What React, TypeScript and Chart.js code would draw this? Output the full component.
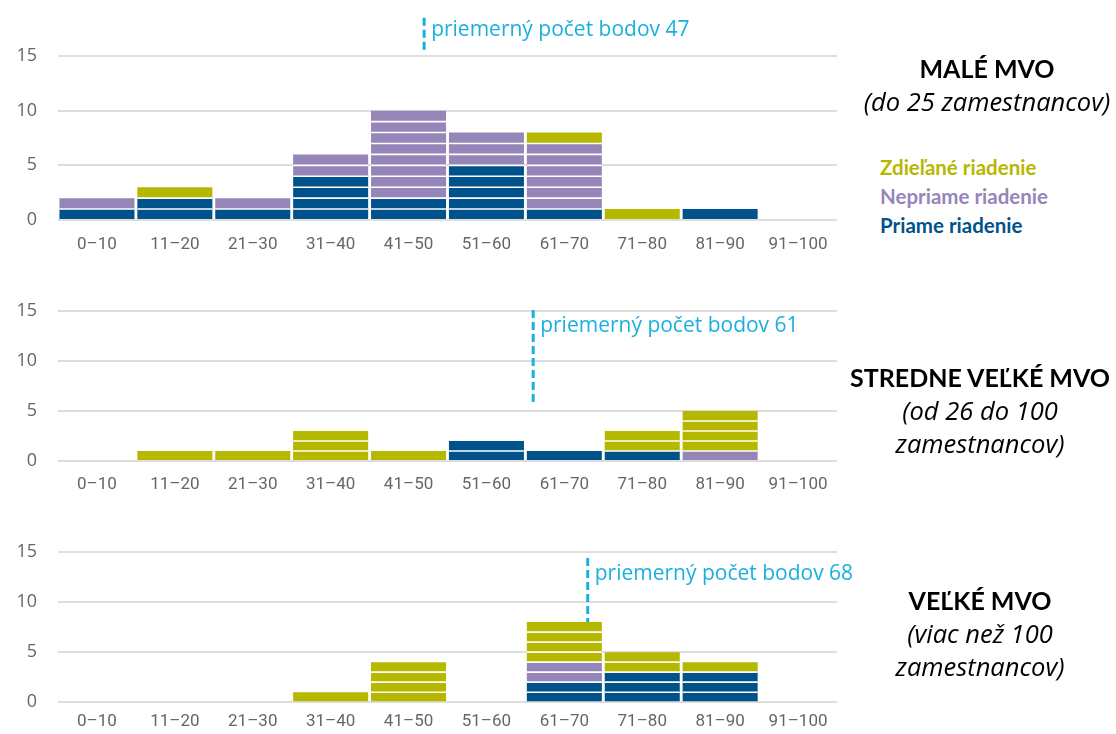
import React, { useEffect, useRef } from "react";
import { Chart, registerables } from "chart.js";

Chart.register(...registerables);

// ---------- data ----------
const categories = ["0–10", "11–20", "21–30", "31–40", "41–50", "51–60", "61–70", "71–80", "81–90", "91–100"];
const yTickValues = [0, 5, 10, 15];
const seriesNames = ["Priame riadenie", "Nepriame riadenie", "Zdieľané riadenie"];

const smallPriame = [1, 2, 1, 4, 2, 5, 1, 0, 1, 0];
const smallNepriame = [1, 0, 1, 2, 8, 3, 6, 0, 0, 0];
const smallZdielane = [0, 1, 0, 0, 0, 0, 1, 1, 0, 0];

const mediumPriame = [0, 0, 0, 0, 0, 2, 1, 1, 0, 0];
const mediumNepriame = [0, 0, 0, 0, 0, 0, 0, 0, 1, 0];
const mediumZdielane = [0, 1, 1, 3, 1, 0, 0, 2, 4, 0];

const largePriame = [0, 0, 0, 0, 0, 0, 2, 3, 3, 0];
const largeNepriame = [0, 0, 0, 0, 0, 0, 2, 0, 0, 0];
const largeZdielane = [0, 0, 0, 1, 4, 0, 4, 2, 1, 0];

const meanScores = [47, 61, 68];
const meanLabelPrefix = "priemerný počet bodov";

const panelTitles = ["MALÉ MVO", "STREDNE VEĽKÉ MVO", "VEĽKÉ MVO"];
const panelSubtitles = [["(do 25 zamestnancov)"], ["(od 26 do 100", "zamestnancov)"], ["(viac než 100", "zamestnancov)"]];

// ---------- styles ----------
const COLORS = ["#00538a", "#9685b8", "#b6b800"];
const MEAN_COLOR = "#1ab0de";
const GRID_COLOR = "#dedede";
const TICK_COLOR = "#666666";

type PanelLayout = {
  top: number;
  height: number;
  padTop: number;
  xAxisHeight: number;
  xTickPad: number;
  lineTop: number; // axis units
  lineBottom: number; // axis units
  labelY: number; // axis units
};

const layouts: PanelLayout[] = [
  { top: 0, height: 260, padTop: 56, xAxisHeight: 40, xTickPad: 15, lineTop: 18.5, lineBottom: 15.3, labelY: 17.4 },
  { top: 255, height: 245, padTop: 56, xAxisHeight: 39, xTickPad: 14, lineTop: 15.1, lineBottom: 5.8, labelY: 13.5 },
  { top: 500, height: 234, padTop: 52, xAxisHeight: 29, xTickPad: 9, lineTop: 14.4, lineBottom: 8, labelY: 12.8 },
];

const unitLinesPlugin = {
  id: "unitLines",
  afterDatasetsDraw(chart: any) {
    const ctx = chart.ctx;
    const y = chart.scales.y;
    const metas = chart.getSortedVisibleDatasetMetas();
    const n = chart.data.labels.length;
    ctx.save();
    ctx.strokeStyle = "#ffffff";
    ctx.lineWidth = 1.6;
    for (let i = 0; i < n; i++) {
      let total = 0;
      chart.data.datasets.forEach((ds: any) => (total += ds.data[i] || 0));
      if (total <= 1) continue;
      const el = metas[0].data[i];
      const half = el.width / 2;
      for (let k = 1; k < total; k++) {
        const py = y.getPixelForValue(k);
        ctx.beginPath();
        ctx.moveTo(el.x - half, py);
        ctx.lineTo(el.x + half, py);
        ctx.stroke();
      }
    }
    ctx.restore();
  },
};

const meanLinePlugin = {
  id: "meanLine",
  afterDraw(chart: any, _args: any, opts: any) {
    const ctx = chart.ctx;
    const xs = chart.scales.x;
    const ys = chart.scales.y;
    const px = xs.getPixelForValue(opts.value / 10 - 0.5);
    const yTop = ys.getPixelForValue(opts.lineTop);
    const yBot = ys.getPixelForValue(opts.lineBottom);
    ctx.save();
    ctx.strokeStyle = MEAN_COLOR;
    ctx.lineWidth = 3;
    ctx.setLineDash([8, 4]);
    ctx.beginPath();
    ctx.moveTo(px, yTop);
    ctx.lineTo(px, yBot);
    ctx.stroke();
    ctx.setLineDash([]);
    ctx.fillStyle = MEAN_COLOR;
    ctx.font = "21px 'Open Sans', sans-serif";
    ctx.textBaseline = "middle";
    ctx.textAlign = "left";
    ctx.fillText(meanLabelPrefix + " " + opts.value, px + 7, ys.getPixelForValue(opts.labelY));
    ctx.restore();
  },
};

function Panel({ series, mean, layout }: { series: number[][]; mean: number; layout: PanelLayout }) {
  const ref = useRef<HTMLCanvasElement | null>(null);
  useEffect(() => {
    if (!ref.current) return;
    const chart = new Chart(ref.current, {
      type: "bar",
      data: {
        labels: categories,
        datasets: series.map((d, i) => ({
          label: seriesNames[i],
          data: d,
          backgroundColor: COLORS[i],
          borderWidth: 0,
          barPercentage: 0.963,
          categoryPercentage: 1,
        })),
      },
      options: {
        responsive: false,
        animation: false,
        layout: { padding: { top: layout.padTop, left: 0, right: 23, bottom: 0 } },
        plugins: {
          legend: { display: false },
          tooltip: { enabled: false },
          meanLine: { value: mean, lineTop: layout.lineTop, lineBottom: layout.lineBottom, labelY: layout.labelY },
        } as any,
        scales: {
          x: {
            stacked: true,
            grid: { display: false, drawTicks: false },
            border: { display: false },
            ticks: {
              color: TICK_COLOR,
              padding: layout.xTickPad,
              font: { family: "'Liberation Sans Narrow', 'Roboto', sans-serif", size: 17 },
              maxRotation: 0,
              autoSkip: false,
            },
            afterFit: (s: any) => {
              s.height = layout.xAxisHeight;
            },
          },
          y: {
            stacked: true,
            min: 0,
            max: 15,
            afterBuildTicks: (s: any) => {
              s.ticks = yTickValues.map((v) => ({ value: v }));
            },
            grid: { color: GRID_COLOR, lineWidth: 2, drawTicks: false },
            border: { display: false },
            ticks: {
              color: TICK_COLOR,
              padding: 21,
              font: { family: "'Open Sans', sans-serif", size: 18 },
            },
            afterFit: (s: any) => {
              s.width = 58;
            },
          },
        },
      },
      plugins: [unitLinesPlugin, meanLinePlugin],
    });
    return () => chart.destroy();
  }, []);
  return (
    <canvas
      ref={ref}
      width={860}
      height={layout.height}
      style={{ position: "absolute", left: 0, top: layout.top, width: 860, height: layout.height }}
    />
  );
}

const titleStyle: React.CSSProperties = {
  position: "absolute",
  width: 280,
  textAlign: "center",
  color: "#000",
  lineHeight: "33px",
};

export default function App() {
  const panels = [
    [smallPriame, smallNepriame, smallZdielane],
    [mediumPriame, mediumNepriame, mediumZdielane],
    [largePriame, largeNepriame, largeZdielane],
  ];
  const titleTops = [52, 361, 584];
  const titleLefts = [847, 840, 840];
  return (
    <div style={{ position: "absolute", left: 0, top: 0, width: 1116, height: 734, background: "#fff", overflow: "hidden" }}>
      {panels.map((p, i) => (
        <Panel key={i} series={p} mean={meanScores[i]} layout={layouts[i]} />
      ))}
      {panelTitles.map((t, i) => (
        <div key={"t" + i} style={{ ...titleStyle, top: titleTops[i], left: titleLefts[i] }}>
          <div style={{ fontFamily: "Lato, 'Open Sans', sans-serif", fontWeight: 700, fontSize: 25, lineHeight: "33px" }}>{t}</div>
          {panelSubtitles[i].map((s, j) => (
            <div key={j} style={{ fontFamily: "'Open Sans', sans-serif", fontStyle: "italic", fontSize: 25.5, lineHeight: "33px" }}>
              {s}
            </div>
          ))}
        </div>
      ))}
      <div style={{ position: "absolute", left: 880, top: 153, fontFamily: "Lato, 'Open Sans', sans-serif", fontWeight: 700, fontSize: 20.5 }}>
        {[2, 1, 0].map((si) => (
          <div key={si} style={{ color: COLORS[si], lineHeight: "29px" }}>
            {seriesNames[si]}
          </div>
        ))}
      </div>
    </div>
  );
}
